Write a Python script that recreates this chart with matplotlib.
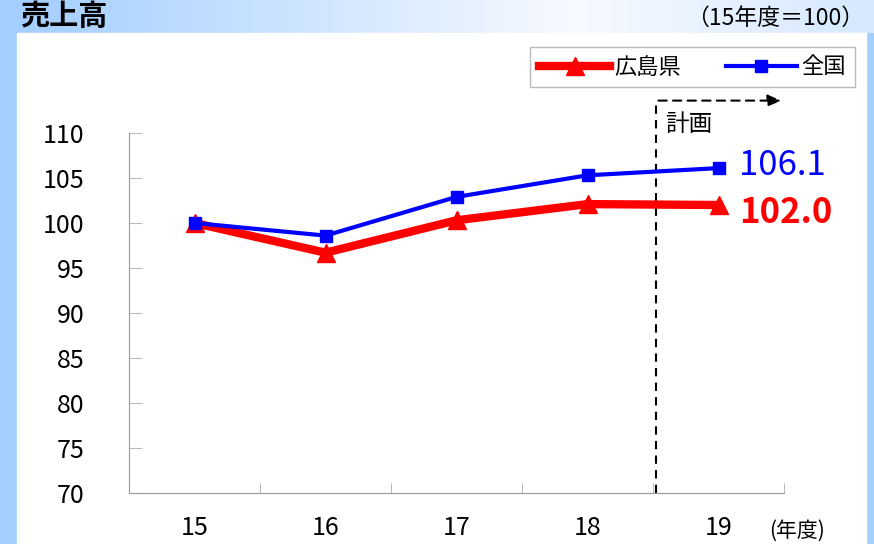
import numpy as np
import matplotlib.pyplot as plt
from matplotlib.patches import Rectangle

plt.rcParams['font.family'] = ['Noto Sans CJK JP', 'DejaVu Sans']

years = ["15", "16", "17", "18", "19"]
hiroshima = [100.0, 96.7, 100.3, 102.1, 102.0]
zenkoku = [100.0, 98.6, 102.9, 105.3, 106.1]
yticks = [70, 75, 80, 85, 90, 95, 100, 105, 110]

W, H = 874, 544
fig = plt.figure(figsize=(W / 100, H / 100), dpi=100)
fig.patch.set_facecolor("#a3cfff")

# background: header gradient + white panel
bg = fig.add_axes([0, 0, 1, 1], zorder=-10)
bg.set_xlim(0, W); bg.set_ylim(H, 0); bg.axis("off")
grad = np.interp(np.linspace(0, 1, 300), [0, 0.65, 1], [0, 1, 0.6])
c0 = np.array([0.64, 0.81, 1.0]); c1 = np.array([0.97, 0.98, 1.0])
img = (c0[None, :] * (1 - grad[:, None]) + c1[None, :] * grad[:, None])[None, :, :]
bg.imshow(img, extent=[17, W, 33, 0], aspect="auto")
bg.add_patch(Rectangle((17, 33), 849, H - 33, color="white"))
bg.text(20, 16, "売上高", fontsize=21, fontweight="bold", va="center", ha="left")
bg.text(864, 18, "（15年度＝100）", fontsize=16.5, va="center", ha="right")

ax = fig.add_axes([129 / W, 1 - 493 / H, (784 - 129) / W, (493 - 133) / H])
x = np.arange(len(years))
ax.plot(x, hiroshima, color="#ff0000", lw=6, marker="^", ms=13, label="広島県", zorder=3)
ax.plot(x, zenkoku, color="#0000ff", lw=3, marker="s", ms=9, label="全国", zorder=4)

ax.set_xlim(-0.5, 4.5)
ax.set_ylim(70, 110)
ax.set_yticks(yticks)
ax.set_xticks(x)
ax.set_xticklabels(years)
ax.set_xticks(np.arange(-0.5, 5, 1), minor=True)
ax.tick_params(axis="x", which="major", length=0, pad=16, labelsize=18)
ax.tick_params(axis="x", which="minor", direction="in", length=7, color="#aaaaaa")
ax.tick_params(axis="y", direction="in", length=9, color="#bbbbbb", labelsize=18, pad=32)
for s in ["top", "right"]:
    ax.spines[s].set_visible(False)
for s in ["left", "bottom"]:
    ax.spines[s].set_color("#999999")
ax.text(4.39, 65.8, "(年度)", fontsize=15, ha="left", va="center", clip_on=False)

# plan marker
ax.plot([3.52, 3.52], [70, 113.6], color="black", lw=1.5, ls=(0, (4, 3)), clip_on=False)
ax.annotate("", xy=(4.5, 113.6), xytext=(3.52, 113.6),
            arrowprops=dict(arrowstyle="-|>,head_length=0.8,head_width=0.35",
                            color="black", lw=1.5, ls=(0, (4, 3))), annotation_clip=False)
ax.text(3.59, 110.9, "計画", fontsize=17, ha="left", va="center")

ax.text(4.16, zenkoku[-1] + 0.3, f"{zenkoku[-1]:.1f}", color="#0000ff", fontsize=25, va="center")
ax.text(4.16, hiroshima[-1] - 0.8, f"{hiroshima[-1]:.1f}", color="#ff0000", fontsize=25,
        fontweight="bold", va="center")

leg = fig.legend(loc="center", bbox_to_anchor=(532 / W, 1 - 89 / H, 321 / W, 44 / H),
                 ncol=2, frameon=True, fancybox=False, fontsize=16, handlelength=3.2,
                 columnspacing=2.0, handletextpad=0.2, borderpad=0.4)
leg.get_frame().set_edgecolor("#aaaaaa")
leg.get_frame().set_linewidth(1)

fig.savefig("out.png", dpi=100, facecolor=fig.get_facecolor())
